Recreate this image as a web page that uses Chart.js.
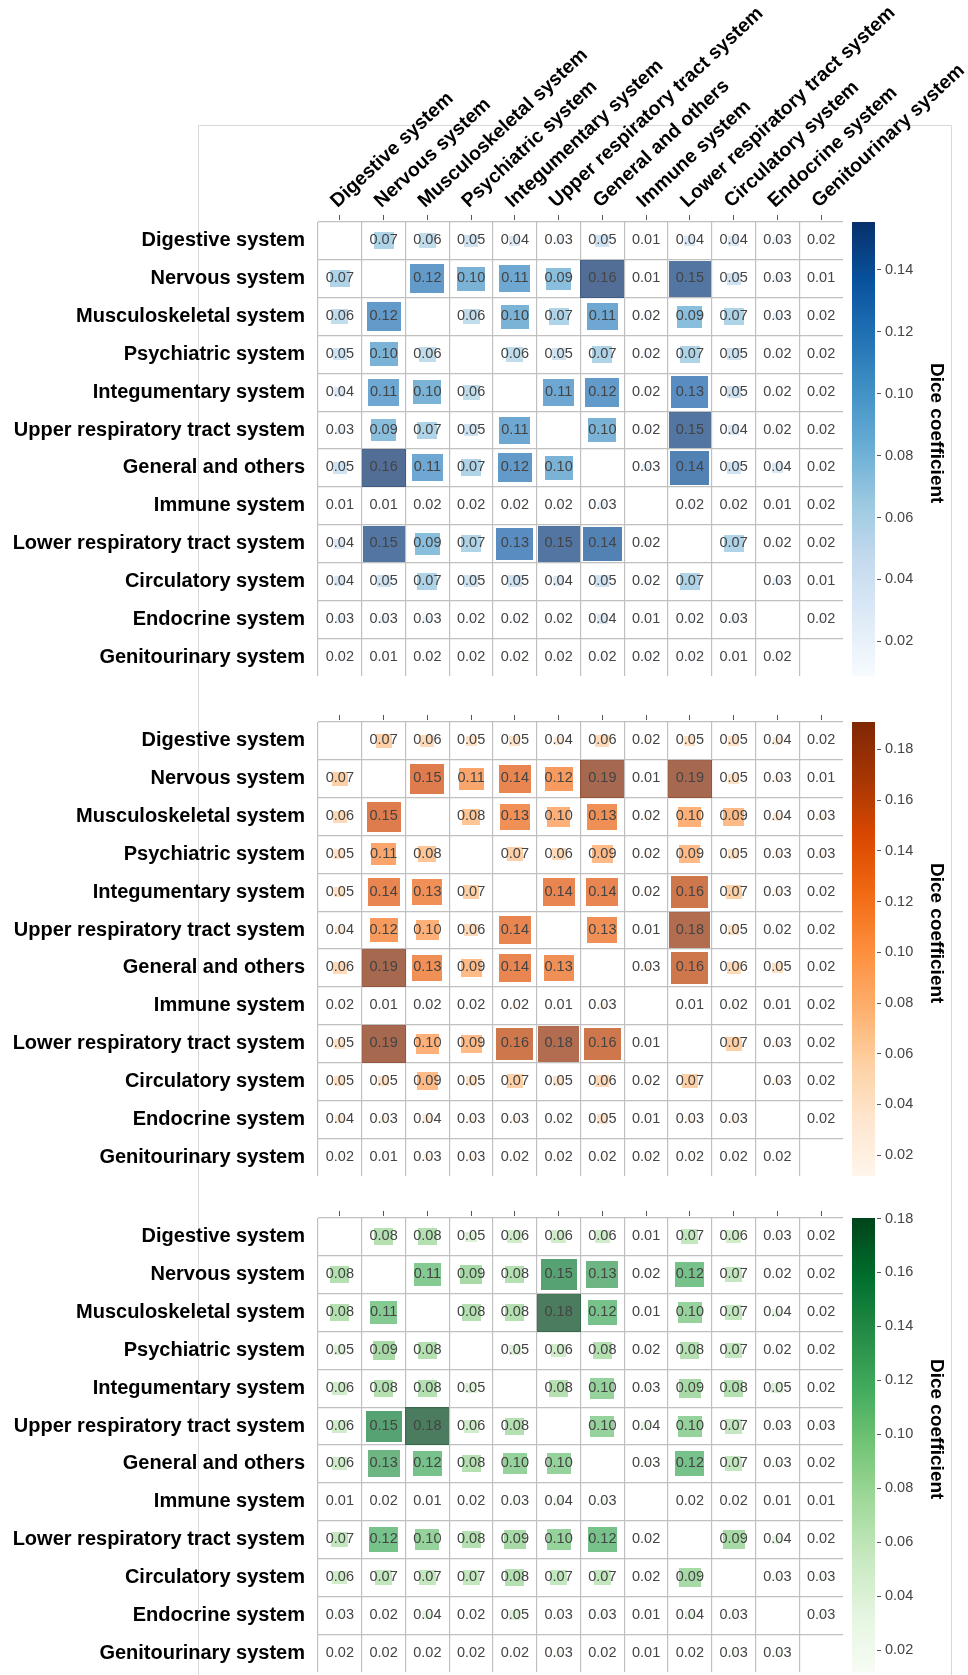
<!DOCTYPE html>
<html>
<head>
<meta charset="utf-8">
<script src="https://cdn.jsdelivr.net/npm/chart.js@4.4.1/dist/chart.umd.min.js"></script>
<style>
html, body { margin: 0; padding: 0; background: #fff; }
body { width: 968px; height: 1675px; position: relative; overflow: hidden; }
#frame { position: absolute; left: 198px; top: 125px; width: 752px; height: 1600px;
         border: 1px solid #d9d9d9; border-bottom: none; }
canvas { position: absolute; }
</style>
</head>
<body>
<div id="frame"></div>
<canvas id="h1"></canvas><canvas id="c1"></canvas>
<canvas id="h2"></canvas><canvas id="c2"></canvas>
<canvas id="h3"></canvas><canvas id="c3"></canvas>
<script>
// ---------------- data ----------------
const systems = ["Digestive system", "Nervous system", "Musculoskeletal system", "Psychiatric system",
  "Integumentary system", "Upper respiratory tract system", "General and others", "Immune system",
  "Lower respiratory tract system", "Circulatory system", "Endocrine system", "Genitourinary system"];

const diceBlue = [
  [null,0.07,0.06,0.05,0.04,0.03,0.05,0.01,0.04,0.04,0.03,0.02],
  [0.07,null,0.12,0.10,0.11,0.09,0.16,0.01,0.15,0.05,0.03,0.01],
  [0.06,0.12,null,0.06,0.10,0.07,0.11,0.02,0.09,0.07,0.03,0.02],
  [0.05,0.10,0.06,null,0.06,0.05,0.07,0.02,0.07,0.05,0.02,0.02],
  [0.04,0.11,0.10,0.06,null,0.11,0.12,0.02,0.13,0.05,0.02,0.02],
  [0.03,0.09,0.07,0.05,0.11,null,0.10,0.02,0.15,0.04,0.02,0.02],
  [0.05,0.16,0.11,0.07,0.12,0.10,null,0.03,0.14,0.05,0.04,0.02],
  [0.01,0.01,0.02,0.02,0.02,0.02,0.03,null,0.02,0.02,0.01,0.02],
  [0.04,0.15,0.09,0.07,0.13,0.15,0.14,0.02,null,0.07,0.02,0.02],
  [0.04,0.05,0.07,0.05,0.05,0.04,0.05,0.02,0.07,null,0.03,0.01],
  [0.03,0.03,0.03,0.02,0.02,0.02,0.04,0.01,0.02,0.03,null,0.02],
  [0.02,0.01,0.02,0.02,0.02,0.02,0.02,0.02,0.02,0.01,0.02,null]
];
const diceOrange = [
  [null,0.07,0.06,0.05,0.05,0.04,0.06,0.02,0.05,0.05,0.04,0.02],
  [0.07,null,0.15,0.11,0.14,0.12,0.19,0.01,0.19,0.05,0.03,0.01],
  [0.06,0.15,null,0.08,0.13,0.10,0.13,0.02,0.10,0.09,0.04,0.03],
  [0.05,0.11,0.08,null,0.07,0.06,0.09,0.02,0.09,0.05,0.03,0.03],
  [0.05,0.14,0.13,0.07,null,0.14,0.14,0.02,0.16,0.07,0.03,0.02],
  [0.04,0.12,0.10,0.06,0.14,null,0.13,0.01,0.18,0.05,0.02,0.02],
  [0.06,0.19,0.13,0.09,0.14,0.13,null,0.03,0.16,0.06,0.05,0.02],
  [0.02,0.01,0.02,0.02,0.02,0.01,0.03,null,0.01,0.02,0.01,0.02],
  [0.05,0.19,0.10,0.09,0.16,0.18,0.16,0.01,null,0.07,0.03,0.02],
  [0.05,0.05,0.09,0.05,0.07,0.05,0.06,0.02,0.07,null,0.03,0.02],
  [0.04,0.03,0.04,0.03,0.03,0.02,0.05,0.01,0.03,0.03,null,0.02],
  [0.02,0.01,0.03,0.03,0.02,0.02,0.02,0.02,0.02,0.02,0.02,null]
];
const diceGreen = [
  [null,0.08,0.08,0.05,0.06,0.06,0.06,0.01,0.07,0.06,0.03,0.02],
  [0.08,null,0.11,0.09,0.08,0.15,0.13,0.02,0.12,0.07,0.02,0.02],
  [0.08,0.11,null,0.08,0.08,0.18,0.12,0.01,0.10,0.07,0.04,0.02],
  [0.05,0.09,0.08,null,0.05,0.06,0.08,0.02,0.08,0.07,0.02,0.02],
  [0.06,0.08,0.08,0.05,null,0.08,0.10,0.03,0.09,0.08,0.05,0.02],
  [0.06,0.15,0.18,0.06,0.08,null,0.10,0.04,0.10,0.07,0.03,0.03],
  [0.06,0.13,0.12,0.08,0.10,0.10,null,0.03,0.12,0.07,0.03,0.02],
  [0.01,0.02,0.01,0.02,0.03,0.04,0.03,null,0.02,0.02,0.01,0.01],
  [0.07,0.12,0.10,0.08,0.09,0.10,0.12,0.02,null,0.09,0.04,0.02],
  [0.06,0.07,0.07,0.07,0.08,0.07,0.07,0.02,0.09,null,0.03,0.03],
  [0.03,0.02,0.04,0.02,0.05,0.03,0.03,0.01,0.04,0.03,null,0.03],
  [0.02,0.02,0.02,0.02,0.02,0.03,0.02,0.01,0.02,0.03,0.03,null]
];

// colour-scale domains [min, max]
const blueRange = [0.0088, 0.1555];
const orangeRange = [0.0118, 0.1908];
const greenRange = [0.0119, 0.1802];

// colour-bar tick values
const blueTicks = [0.02, 0.04, 0.06, 0.08, 0.10, 0.12, 0.14];
const orangeTicks = [0.02, 0.04, 0.06, 0.08, 0.10, 0.12, 0.14, 0.16, 0.18];
const greenTicks = [0.02, 0.04, 0.06, 0.08, 0.10, 0.12, 0.14, 0.16, 0.18];

const colorbarTitle = "Dice coefficient";

// ---------------- styles ----------------
const BLUES = ["#f7fbff","#deebf7","#c6dbef","#9ecae1","#6baed6","#4292c6","#2171b5","#08519c","#08306b"];
const ORANGES = ["#fff5eb","#fee6ce","#fdd0a2","#fdae6b","#fd8d3c","#f16913","#d94801","#a63603","#7f2704"];
const GREENS = ["#f7fcf5","#e5f5e0","#c7e9c0","#a1d99b","#74c476","#41ab5d","#238b45","#006d2c","#00441b"];

const FONT = '"Liberation Sans", Arial, Helvetica, sans-serif';
Chart.defaults.font.family = FONT;

const W = 968, GRID_LEFT = 318, GRID_RIGHT = 843, GRID_H = 454;
const CELL_ALPHA = 0.7;
const GRID_COLOR = '#c0c0c0';

function hexToRgb(h) { return [1,3,5].map(i => parseInt(h.substr(i,2),16)); }
function cmap(stops, t) {
  t = Math.max(0, Math.min(1, t));
  const p = t * (stops.length - 1);
  const i = Math.min(stops.length - 2, Math.floor(p));
  const f = p - i;
  const a = hexToRgb(stops[i]), b = hexToRgb(stops[i+1]);
  return a.map((v, k) => v + (b[k] - v) * f);
}
function noPad(s) { s.paddingLeft = 0; s.paddingRight = 0; s.paddingTop = 0; s.paddingBottom = 0; }

const panels = [
  { h: 'h1', c: 'c1', data: diceBlue, range: blueRange, ticks: blueTicks, stops: BLUES, gridTop: 222, labels: true },
  { h: 'h2', c: 'c2', data: diceOrange, range: orangeRange, ticks: orangeTicks, stops: ORANGES, gridTop: 722, labels: false },
  { h: 'h3', c: 'c3', data: diceGreen, range: greenRange, ticks: greenTicks, stops: GREENS, gridTop: 1218, labels: false }
];

const gridColor = ctx => ctx.type === 'tick' ? GRID_COLOR : 'rgba(0,0,0,0)';

const cellText = {
  id: 'cellText',
  afterDatasetsDraw(chart) {
    const meta = chart.getDatasetMeta(0);
    const ds = chart.data.datasets[0].data;
    const ctx = chart.ctx;
    ctx.save();
    ctx.font = '14.5px ' + FONT;
    ctx.fillStyle = '#444';
    ctx.textAlign = 'center';
    ctx.textBaseline = 'middle';
    meta.data.forEach((el, i) => ctx.fillText(ds[i].v.toFixed(2), el.x, el.y - 0.5));
    ctx.restore();
  }
};

panels.forEach(p => {
  const n = systems.length;
  const points = [];
  p.data.forEach((row, r) => row.forEach((v, c) => {
    if (v !== null) points.push({ x: systems[c], y: systems[r], v: v });
  }));

  const xH = p.labels ? p.gridTop : 60;
  const hc = document.getElementById(p.h);
  hc.width = W; hc.height = xH + GRID_H + 4;
  hc.style.left = '0px'; hc.style.top = (p.gridTop - xH) + 'px';

  const rectStyle = ctx => {
    const chart = ctx.chart;
    const cw = chart.scales.xg.width / n, ch = chart.scales.y.height / n;
    const v = ctx.raw.v;
    const f = Math.min(1, v / p.range[1]);
    const w = Math.max(1, Math.round(cw * f)), h = Math.max(1, Math.round(ch * f));
    const cv = document.createElement('canvas');
    cv.width = w; cv.height = h;
    const g = cv.getContext('2d');
    const rgb = cmap(p.stops, (v - p.range[0]) / (p.range[1] - p.range[0]));
    g.fillStyle = `rgba(${rgb.map(Math.round).join(',')},${CELL_ALPHA})`;
    g.fillRect(0, 0, w, h);
    return cv;
  };

  new Chart(hc, {
    type: 'scatter',
    data: { datasets: [{ data: points, pointStyle: rectStyle, pointRadius: 1, pointHoverRadius: 1,
                         showLine: false, clip: false, xAxisID: 'x', yAxisID: 'y' }] },
    options: {
      responsive: false, animation: false, events: [],
      layout: { autoPadding: false, padding: { left: 0, right: W - GRID_RIGHT, top: 0, bottom: 4 } },
      plugins: { legend: { display: false }, tooltip: { enabled: false } },
      scales: {
        x: {
          type: 'category', labels: systems, position: 'top', offset: true,
          grid: { offset: false, drawOnChartArea: false, drawTicks: true, tickLength: 7,
                  tickColor: '#555', tickWidth: 1, tickBorderDash: [5, 20] },
          border: { display: false },
          ticks: { display: p.labels, autoSkip: false, minRotation: 43, maxRotation: 43, padding: 2,
                   labelOffset: 10, color: '#000', font: { size: 19.5, weight: 'bold' } },
          afterFit: s => { s.height = xH; noPad(s); }
        },
        xg: {
          type: 'category', labels: systems, position: 'top', offset: true,
          grid: { offset: true, drawTicks: false, color: gridColor, lineWidth: 1.2 },
          border: { display: false },
          ticks: { display: false },
          afterFit: s => { s.height = 0; noPad(s); }
        },
        y: {
          type: 'category', labels: systems, position: 'left', offset: true,
          grid: { offset: true, drawTicks: false, color: gridColor, lineWidth: 1.2 },
          border: { display: false },
          ticks: { autoSkip: false, padding: 13, color: '#000', font: { size: 20, weight: 'bold' } },
          afterFit: s => { s.width = GRID_LEFT; noPad(s); }
        }
      }
    },
    plugins: [cellText]
  });

  // colour bar
  const cc = document.getElementById(p.c);
  const CB_LEFT = 846, CB_PAD = 6, CB_W = 23;
  cc.width = W - CB_LEFT; cc.height = GRID_H + 20;
  cc.style.left = CB_LEFT + 'px'; cc.style.top = (p.gridTop - 10) + 'px';
  const grad = ctx => {
    const a = ctx.chart.chartArea;
    if (!a) return 'rgba(0,0,0,0)';
    const g = ctx.chart.ctx.createLinearGradient(0, a.bottom, 0, a.top);
    p.stops.forEach((s, i) => g.addColorStop(i / (p.stops.length - 1), s));
    return g;
  };
  new Chart(cc, {
    type: 'bar',
    data: { labels: ['cb'], datasets: [{ data: [[p.range[0], p.range[1]]], backgroundColor: grad,
            barPercentage: 1, categoryPercentage: 1, borderWidth: 0 }] },
    options: {
      responsive: false, animation: false, events: [],
      layout: { autoPadding: false, padding: { left: CB_PAD, right: 0, top: 10, bottom: 10 } },
      plugins: { legend: { display: false }, tooltip: { enabled: false } },
      scales: {
        x: { type: 'category', display: false, offset: true, afterFit: noPad },
        y: {
          type: 'linear', position: 'right', min: p.range[0], max: p.range[1],
          afterBuildTicks: s => { s.ticks = p.ticks.map(v => ({ value: v })); },
          grid: { drawOnChartArea: false, drawTicks: true, tickLength: 6, tickColor: '#555',
                  tickBorderDash: [4, 2], tickBorderDashOffset: 4 },
          border: { display: false },
          ticks: { padding: 4, color: '#444', font: { size: 14.5 }, callback: v => v.toFixed(2) },
          title: { display: true, text: colorbarTitle + '\u00a0\u00a0\u00a0\u00a0\u00a0\u00a0',
                   color: '#000', font: { size: 19, weight: 'bold' }, padding: { top: 20, bottom: 0 } },
          afterFit: s => { s.width = (W - CB_LEFT) - CB_PAD - CB_W; noPad(s); }
        }
      }
    }
  });
});
</script>
</body>
</html>
